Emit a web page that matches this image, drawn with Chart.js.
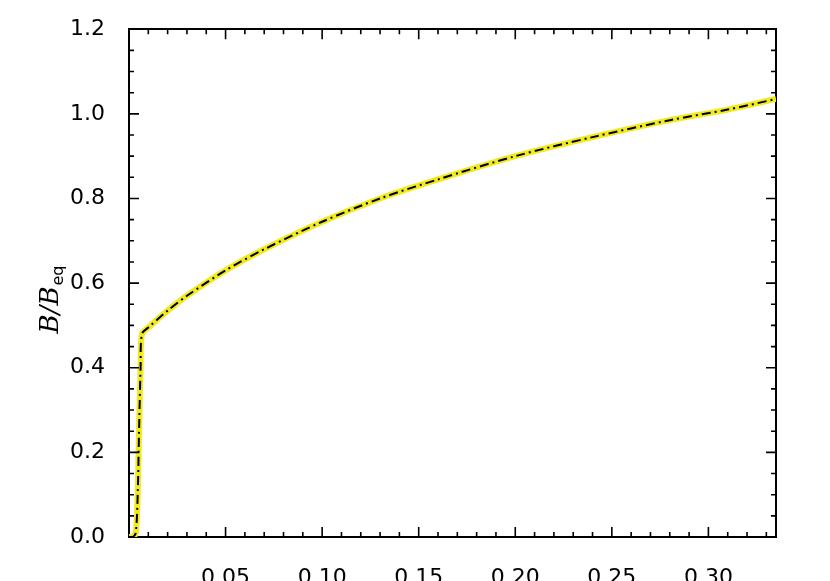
<!DOCTYPE html>
<html>
<head>
<script src="https://cdn.jsdelivr.net/npm/chart.js@4"></script>
<style>body{margin:0;background:#fff}</style>
</head>
<body>
<canvas id="c" width="830" height="581"></canvas>
<script>
// curve
let xs = [0.0, 0.002, 0.0035, 0.0045, 0.0052, 0.006, 0.0067, 0.01, 0.02, 0.03, 0.05, 0.07, 0.1, 0.13, 0.16, 0.2, 0.24, 0.28, 0.31, 0.335];
let ys = [0.0, 0.0, 0.01, 0.1, 0.25, 0.4, 0.48, 0.495, 0.535, 0.57, 0.63, 0.68, 0.745, 0.8, 0.845, 0.9, 0.945, 0.985, 1.01, 1.035];
let xTicks = [0.05, 0.10, 0.15, 0.20, 0.25, 0.30];
let yTicks = [0.0, 0.2, 0.4, 0.6, 0.8, 1.0, 1.2];

let pts = xs.map((x, i) => ({ x: x, y: ys[i] }));
let font = { family: "DejaVu Sans", size: 22 };

/*
    Draw the IDL-style minor/major ticks on all four sides plus the y title
*/
const tickPlugin = {
    id: 'ticks',
    afterDraw(chart) {
        let ctx = chart.ctx, a = chart.chartArea;
        let sx = chart.scales.x, sy = chart.scales.y;
        ctx.save();
        ctx.strokeStyle = '#000';
        ctx.lineWidth = 1.6;
        ctx.beginPath();
        for (let i = 1; i * 0.01 < sx.max; i++) {
            let px = sx.getPixelForValue(i * 0.01);
            let len = i % 5 === 0 ? 10 : 5;
            ctx.moveTo(px, a.bottom); ctx.lineTo(px, a.bottom - len);
            ctx.moveTo(px, a.top); ctx.lineTo(px, a.top + len);
        }
        for (let i = 1; i < 24; i++) {
            let py = sy.getPixelForValue(i * 0.05);
            let len = i % 4 === 0 ? 10 : 5;
            ctx.moveTo(a.left, py); ctx.lineTo(a.left + len, py);
            ctx.moveTo(a.right, py); ctx.lineTo(a.right - len, py);
        }
        ctx.stroke();
        // y title
        ctx.translate(48, 300);
        ctx.rotate(-Math.PI / 2);
        ctx.fillStyle = '#000';
        ctx.textBaseline = 'alphabetic';
        ctx.font = 'italic 26px "DejaVu Serif"';
        let t1 = 'B/B';
        let w1 = ctx.measureText(t1).width;
        ctx.font = '16px "DejaVu Sans"';
        let w2 = ctx.measureText('eq').width;
        let x0 = -(w1 + w2) / 2;
        ctx.font = 'italic 26px "DejaVu Serif"';
        ctx.fillText(t1, x0, 10);
        ctx.font = '16px "DejaVu Sans"';
        ctx.fillText('eq', x0 + w1 + 1, 15);
        ctx.restore();
    }
};

new Chart(document.getElementById('c'), {
    type: 'scatter',
    data: {
        datasets: [{
            data: pts,
            showLine: true,
            borderColor: '#f0ea1e',
            borderWidth: 6,
            pointRadius: 0,
            tension: 0.3,
            order: 1
        }, {
            data: pts,
            showLine: true,
            borderColor: '#000',
            borderWidth: 2,
            borderDash: [9, 4, 2, 4],
            pointRadius: 0,
            tension: 0.3,
            order: 0
        }]
    },
    options: {
        responsive: false,
        animation: false,
        devicePixelRatio: 1,
        layout: { padding: { top: 15, right: 54, left: 0, bottom: 0 } },
        plugins: { legend: { display: false }, tooltip: { enabled: false } },
        scales: {
            x: {
                type: 'linear', min: 0, max: 0.335,
                afterBuildTicks: s => { s.ticks = xTicks.map(v => ({ value: v })); },
                afterFit: s => { s.height = 44; },
                grid: { display: false },
                border: { display: true, color: '#000', width: 2 },
                ticks: { font: font, color: '#000', padding: 20, maxRotation: 0, callback: v => v.toFixed(2) }
            },
            y: {
                min: 0, max: 1.2,
                afterBuildTicks: s => { s.ticks = yTicks.map(v => ({ value: v })); },
                afterFit: s => { s.width = 129; },
                grid: { display: false },
                border: { display: true, color: '#000', width: 2 },
                ticks: { font: font, color: '#000', padding: 16, callback: v => v.toFixed(1) }
            },
            x2: {
                type: 'linear', position: 'top', min: 0, max: 0.335,
                grid: { display: false }, ticks: { display: false },
                border: { display: true, color: '#000', width: 2 },
                afterFit: s => { s.height = 0; }
            },
            y2: {
                position: 'right', min: 0, max: 1.2,
                grid: { display: false }, ticks: { display: false },
                border: { display: true, color: '#000', width: 2 },
                afterFit: s => { s.width = 0; }
            }
        }
    },
    plugins: [tickPlugin]
});
</script>
</body>
</html>
